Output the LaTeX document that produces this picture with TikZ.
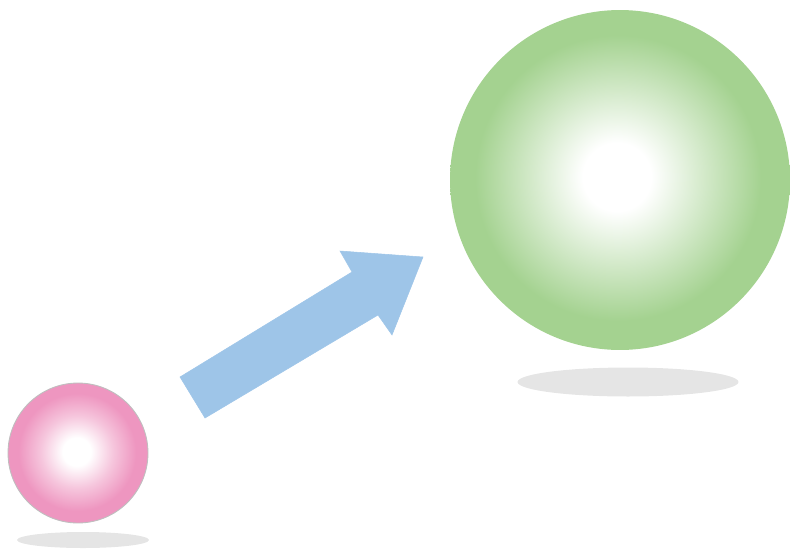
\documentclass[tikz,border=0pt]{standalone}
\usepackage{tikz}
\usetikzlibrary{shapes.geometric}
\definecolor{ballpink}{RGB}{238,150,192}
\definecolor{ballgreen}{RGB}{164,210,144}
\definecolor{arrowblue}{RGB}{158,197,232}
\definecolor{shadowgray}{RGB}{229,229,229}
\pgfdeclareradialshading{pinkball}{\pgfpoint{-0.5bp}{0.5bp}}{%
  color(0bp)=(white); color(5bp)=(white); color(13bp)=(ballpink!55); color(21bp)=(ballpink); color(50bp)=(ballpink)}
\pgfdeclareradialshading{greenball}{\pgfpoint{-0.5bp}{0.5bp}}{%
  color(0bp)=(white); color(5bp)=(white); color(13bp)=(ballgreen!50); color(21bp)=(ballgreen); color(50bp)=(ballgreen)}
\tikzset{
  ball/.style={circle, inner sep=0pt, outer sep=0pt},
  shadow/.style={ellipse, fill=shadowgray, inner sep=0pt, outer sep=0pt},
  bigarrow/.style={fill=arrowblue, draw=arrowblue, line width=0.3pt, line join=miter}
}
\begin{document}
\begin{tikzpicture}[x=0.02cm, y=-0.02cm]
  \useasboundingbox (0,0) rectangle (790,551);
  % shadows
  \node[shadow, minimum width=2.64cm, minimum height=0.32cm] (smallshadow) at (83,540) {};
  \node[shadow, minimum width=4.42cm, minimum height=0.58cm] (bigshadow) at (628,382) {};
  % spheres
  \node[ball, minimum size=2.8cm, shading=pinkball, draw=black!25, line width=0.5pt] (small) at (78,453) {};
  \node[ball, minimum size=6.8cm, shading=greenball] (big) at (620,180) {};
  % arrow
  \draw[bigarrow] (180,377) -- (352,272) -- (340,251) -- (423,257)
    -- (392,335) -- (378,315) -- (205,418) -- cycle;
\end{tikzpicture}
\end{document}
